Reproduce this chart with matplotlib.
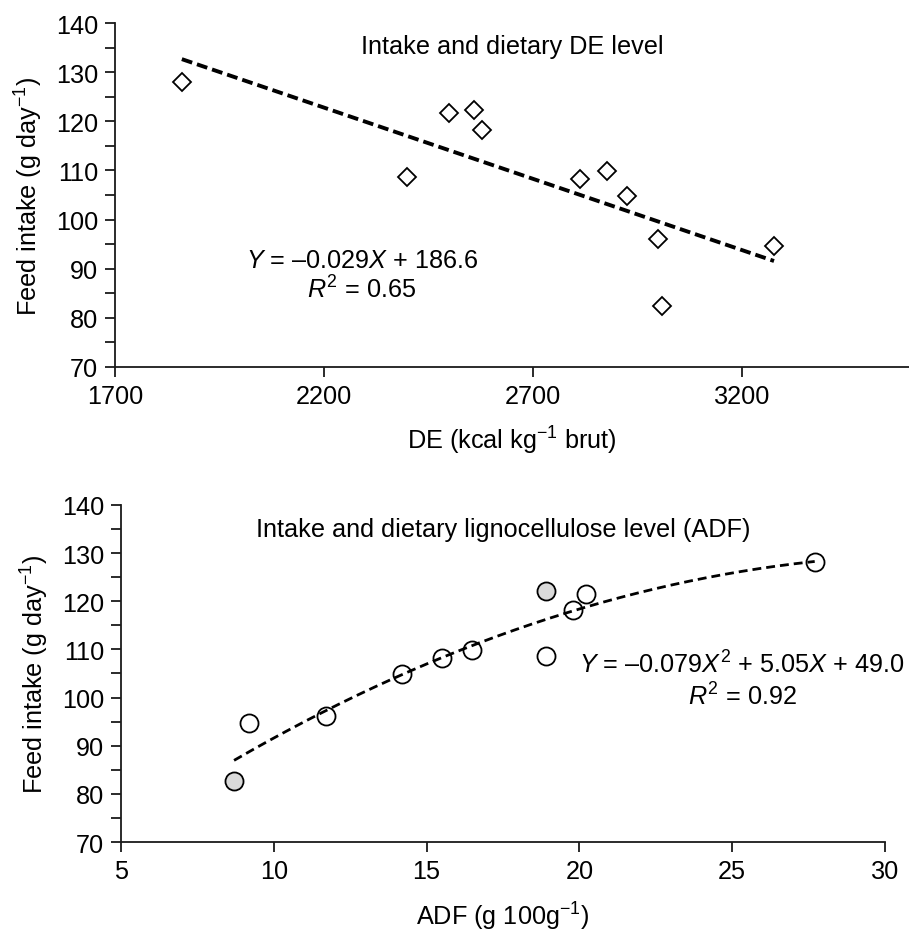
import matplotlib
matplotlib.use("Agg")
import matplotlib.pyplot as plt
import numpy as np

plt.rcParams['font.family'] = ['Liberation Sans', 'DejaVu Sans']
plt.rcParams['mathtext.fontset'] = 'custom'
plt.rcParams['mathtext.rm'] = 'Liberation Sans'
plt.rcParams['mathtext.it'] = 'Liberation Sans:italic'

# --- data ---
de_kcal = [1860, 2399, 2499, 2560, 2578, 2812, 2877, 2926, 3000, 3009, 3277]
de_intake = [128.0, 108.7, 121.6, 122.3, 118.3, 108.2, 109.8, 104.8, 96.1, 82.4, 94.6]

adf_open = [9.2, 11.7, 14.2, 15.5, 16.5, 18.9, 19.8, 20.2, 27.7]
adf_open_intake = [94.8, 96.2, 104.8, 108.3, 109.9, 108.7, 118.2, 121.6, 128.2]
adf_grey = [8.7, 18.9]
adf_grey_intake = [82.6, 122.2]

lin_coef = (-0.029, 186.6)
quad_coef = (-0.079, 5.05, 49.0)

FS = 18.2

fig = plt.figure(figsize=(9.09, 9.37), dpi=100)
ax1 = fig.add_axes([0.1265, 0.6073, 0.8735, 0.367])
ax2 = fig.add_axes([0.1331, 0.1003, 0.8405, 0.3597])

def style_axis(ax):
    for s in ['top', 'right']:
        ax.spines[s].set_visible(False)
    for s in ['left', 'bottom']:
        ax.spines[s].set_linewidth(1.3)
        ax.spines[s].set_color('#1a1a1a')
    ax.tick_params(axis='both', which='major', direction='out', length=7,
                   width=1.3, labelsize=FS, color='#1a1a1a', pad=5)
    ax.tick_params(axis='y', which='minor', direction='out', length=7,
                   width=1.3, color='#1a1a1a')
    ax.set_ylim(70, 140)
    ax.set_yticks(np.arange(70, 141, 10))
    ax.set_yticks(np.arange(75, 140, 10), minor=True)
    ax.set_ylabel(r"Feed intake (g day$^{-1}$)", fontsize=FS, labelpad=8)

# --- top panel: DE ---
style_axis(ax1)
xs = np.array([min(de_kcal), max(de_kcal)])
ax1.plot(xs, lin_coef[0] * xs + lin_coef[1], color='black', lw=2.8,
         linestyle=(0, (2.8, 1.3)), zorder=2)
ax1.plot(de_kcal, de_intake, linestyle='none', marker='D', ms=8.8,
         mfc='none', mec='black', mew=1.3, zorder=3)
ax1.set_xlim(1700, 3600)
ax1.set_xticks([1700, 2200, 2700, 3200])
ax1.set_xlabel(r"DE (kcal kg$^{-1}$ brut)", fontsize=FS, labelpad=12)
ax1.text(0.5, 0.933, "Intake and dietary DE level", transform=ax1.transAxes,
         ha='center', va='center', fontsize=FS)
ax1.text(0.311, 0.311, r"$Y$ = –0.029$X$ + 186.6", transform=ax1.transAxes,
         ha='center', va='center', fontsize=FS)
ax1.text(0.311, 0.227, r"$R^2$ = 0.65", transform=ax1.transAxes,
         ha='center', va='center', fontsize=FS)

# --- bottom panel: ADF ---
style_axis(ax2)
xq = np.linspace(min(adf_grey + adf_open), max(adf_grey + adf_open), 200)
ax2.plot(xq, quad_coef[0] * xq**2 + quad_coef[1] * xq + quad_coef[2],
         color='black', lw=2.0, linestyle=(0, (3.2, 1.8)), zorder=2)
ax2.plot(adf_open, adf_open_intake, linestyle='none', marker='o', ms=13,
         mfc='none', mec='black', mew=1.3, zorder=3)
ax2.plot(adf_grey, adf_grey_intake, linestyle='none', marker='o', ms=13,
         mfc='#dadada', mec='black', mew=1.3, zorder=3)
ax2.set_xlim(5, 30)
ax2.set_xticks([5, 10, 15, 20, 25, 30])
ax2.set_xlabel(r"ADF (g 100g$^{-1}$)", fontsize=FS, labelpad=12)
ax2.text(0.5, 0.929, "Intake and dietary lignocellulose level (ADF)",
         transform=ax2.transAxes, ha='center', va='center', fontsize=FS)
ax2.text(0.813, 0.528, r"$Y$ = –0.079$X^2$ + 5.05$X$ + 49.0",
         transform=ax2.transAxes, ha='center', va='center', fontsize=FS)
ax2.text(0.813, 0.433, r"$R^2$ = 0.92", transform=ax2.transAxes,
         ha='center', va='center', fontsize=FS)

fig.savefig("out.png", dpi=100)
